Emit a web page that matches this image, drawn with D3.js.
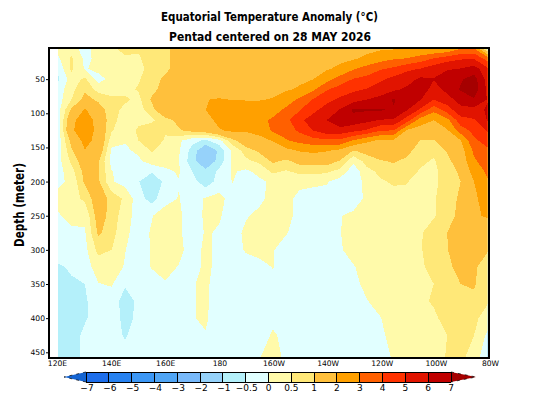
<!DOCTYPE html>
<html><head><meta charset="utf-8">
<style>html,body{margin:0;padding:0;background:#fff}svg{display:block}text{font-family:"DejaVu Sans",sans-serif;fill:#000}</style>
<script src="https://cdn.jsdelivr.net/npm/d3@7"></script></head>
<body><svg id="c" width="540" height="405"></svg>
<script>
const titleText = "Equatorial Temperature Anomaly (°C)";
const subtitleText = "Pentad centered on 28 MAY 2026";
const yTitle = "Depth (meter)";
const lons = d3.range(120, 281, 5);
const depths = [5,20,35,50,65,80,95,110,125,140,155,170,185,200,225,250,275,300,325,350,375,400,425,458];
const depthTicks = [50,100,150,200,250,300,350,400,450];
const lonTicks = [120,140,160,180,200,220,240,260,280];
const lonLabels = ["120E","140E","160E","180","160W","140W","120W","100W","80W"];
const thresholds = [-7,-6,-5,-4,-3,-2,-1,-0.5,0,0.5,1,2,3,4,5,6,7];
const barLabels = ["−7","−6","−5","−4","−3","−2","−1","−0.5","0","0.5","1","2","3","4","5","6","7"];
const bandColors = ["#1464d2","#1e6eeb","#2882f0","#3c97f5","#50a5f5","#78b9fa","#96d2fa","#b4f0fa","#e1ffff","#fffaaa","#ffe878","#ffc03c","#ffa000","#ff6000","#ff3200","#e11400","#c00000","#a50000"];

const t005=[.25,.2,-.2,.25,.4,.7,.55,.8,.9,1.2,1.3,1.3,1.3,1.3,1.3,1.3,1.3,1.35,1.4,1.45,1.5,1.55,1.7,1.75,1.85,1.9,1.95,1.9,1.95,2.05,2.9,3,-.1];
const t020=[-.1,.6,-.1,.1,.3,.4,.45,.7,.9,1.2,1.35,1.4,1.4,1.4,1.4,1.4,1.45,1.5,1.55,1.65,1.7,1.8,1.9,2.2,2.6,2.9,3.05,3.5,4.05,4.6,4.9,4.95,3.6];
const t035=[-.4,.6,-.05,.15,.25,.1,.35,.7,.9,1.2,1.4,1.4,1.5,1.5,1.5,1.5,1.5,1.6,1.7,1.8,1.9,2.2,2.9,3.4,3.9,4.2,4.8,5.05,5.6,5.9,6.05,6.5,5.2];
const t050=[-.6,.25,.6,-.2,.15,.3,.45,.8,1.1,1.25,1.4,1.5,1.5,1.55,1.55,1.55,1.6,1.7,1.85,1.98,2.6,3.4,4.05,4.3,4.8,5.3,5.55,6.2,6.05,6.6,6.9,7.4,5.6];
const t065=[-.3,.35,.9,.3,.3,.35,.55,.8,1.3,1.5,1.6,1.7,1.7,1.7,1.7,1.7,1.8,1.9,2.1,2.8,3.9,4.4,4.8,5.05,5.5,5.8,6.2,6.6,5.6,6.3,7.1,7.6,5.8];
const t080=[-.25,.5,1.2,.9,.6,.6,.35,1.1,1.6,1.8,1.9,1.98,2.05,1.98,1.95,1.95,2.05,2.5,3.2,4.05,4.7,5.2,5.6,6,6.3,7.1,6.5,6.05,5,5.6,6.4,6.9,5.95];
const t095=[-.2,1.1,2.1,1.3,.7,.35,.3,.8,1.7,1.9,1.95,2,2.5,2.5,2.5,2.5,2.6,3.2,3.95,4.75,5.4,6.05,7.15,7.1,7.1,6.9,6.05,4.8,3.3,4.5,5.7,5.7,6.1];
const t110=[-.2,1.6,2.8,1.5,.7,.2,.35,.4,.8,1.15,1.4,1.6,2.3,2.6,2.6,2.75,3.15,3.7,4.8,5.4,5.98,6.9,6.6,6.3,5.95,5.9,4.5,2.5,2,2.7,4.6,4.9,6.05];
const t125=[-.3,1.8,2.8,1.6,.55,.15,.6,.8,.55,.95,1.2,1.4,1.9,2.2,2.1,2.3,3.15,3.5,4.2,5.05,5.6,5.6,5.3,4.9,4.1,4,1.9,1.6,1.5,1.9,3.5,4.3,5.1];
const t140=[-.3,1.2,2.3,1.7,.2,.05,.5,.75,.45,.1,-.35,-.6,-.2,.8,1.5,1.7,2.05,2.9,3.3,3.6,3.8,3.8,2.9,2.2,1.85,1.85,1.55,.98,.95,1.4,1.95,3.8,4.4];
const t155=[-.3,.9,1.95,1.5,-.1,-.1,.1,.55,.25,.05,-.7,-1.6,-.9,.1,.7,1.1,1.4,1.7,2.05,2.2,2.05,1.7,.95,1.2,1.4,1.4,1.15,.75,.6,1.05,1.5,3.2,3.8];
const t170=[-.2,.6,1.4,1.1,-.2,-.3,-.1,.25,.2,.02,-.8,-1.5,-.8,.1,.4,.6,1.1,.9,1.2,1.25,1.3,.95,.1,.7,.95,1.05,.9,.6,.45,.85,1.35,2.85,3.5];
const t185=[-.2,.3,1.2,1.05,.02,-.2,-.3,-.45,-.1,.05,-.5,-.85,-.4,.05,-.1,.15,.6,.45,.65,.65,.6,.35,-.3,.35,.6,.8,.7,.45,.38,.75,1.1,2.4,3.2];
const t200=[-.1,.1,1.1,1.1,.05,-.2,-.48,-.8,-.4,-.02,-.3,-.8,-.3,.02,-.3,-.1,.1,.3,.1,.1,.05,-.2,-.35,.2,.45,.55,.52,.35,.4,.7,1,2,2.9];
const t225=[.15,.3,.6,1.4,.8,.4,-.3,-.7,-.15,.02,-.2,.05,.15,-.2,-.3,-.15,.2,.1,-.1,-.2,-.2,-.3,-.25,.1,.25,.35,.4,.35,.45,.75,1.1,1.8,2.5];
const t250=[-.05,.15,.1,1.3,.8,.2,-.2,-.02,.2,.1,-.3,.1,.05,-.2,-.05,.15,.3,.1,-.1,-.2,-.2,-.02,.1,.2,.25,.3,.35,.4,.45,.8,1.15,1.88,2.1];
const t275=[-.2,-.1,-.05,1.1,.7,.1,-.2,.05,.2,.1,-.3,.05,-.05,-.2,.1,.25,.3,.03,-.2,-.25,-.2,-.01,.1,.2,.3,.3,.35,.45,.75,1,1.2,1.5,1.4];
const t300=[-.3,-.25,-.15,.65,.5,.02,-.3,.05,.2,.12,-.2,.1,-.1,-.2,.05,.2,.03,-.2,-.25,-.3,-.2,-.03,.1,.2,.25,.3,.35,.45,.8,.98,1.3,1.4,1.05];
const t325=[-.55,-.45,-.2,.2,.3,-.05,-.2,.03,.12,-.02,-.15,.08,-.1,-.2,-.2,-.2,.02,-.2,-.3,-.3,-.25,-.2,-.02,.1,.2,.25,.3,.4,.7,.9,1.15,1.1,.7];
const t350=[-.6,-.55,-.5,-.02,.05,-.45,-.3,-.2,-.03,-.15,-.02,.06,-.15,-.2,-.2,-.2,-.1,-.25,-.3,-.3,-.3,-.2,-.05,.05,.15,.25,.3,.35,.5,.8,1,1.05,.65];
const t375=[-.7,-.65,-.55,-.3,-.25,-.7,-.4,-.25,-.25,-.2,-.02,.06,-.2,-.2,-.2,-.2,-.1,-.3,-.3,-.3,-.3,-.3,-.1,-.01,.08,.15,.3,.45,.53,.7,.97,.9,.55];
const t400=[-.8,-.7,-.55,-.3,-.25,-.65,-.4,-.25,-.2,-.2,-.02,.05,-.2,-.2,-.2,-.2,-.1,-.25,-.25,-.25,-.25,-.25,-.2,-.2,-.01,.1,.25,.35,.45,.6,.75,.6,.3];
const t425=[-.75,-.7,-.4,-.3,-.3,-.55,-.25,-.2,-.2,-.2,-.05,-.02,-.2,-.2,-.2,-.2,.05,-.1,-.2,-.2,-.2,-.2,-.2,-.15,-.05,.08,.2,.3,.4,.5,.65,.5,-.1];
const t458=[-.75,-.7,-.4,-.3,-.3,-.3,-.25,-.2,-.2,-.2,-.2,-.2,-.2,-.2,-.2,-.02,.2,-.1,-.2,-.2,-.2,-.2,-.2,-.2,-.2,.05,.15,.3,.4,.52,.65,.2,-.3];
const rows=[t005,t020,t035,t050,t065,t080,t095,t110,t125,t140,t155,t170,t185,t200,t225,t250,t275,t300,t325,t350,t375,t400,t425,t458];

const svg=d3.select("#c");
const x=d3.scaleLinear().domain([120,280]).range([58,487.5]);
const y=d3.scaleLinear().domain([0,450]).range([45,352.3]);
const labelX=d3.scaleLinear().domain([120,280]).range([57,490]);

svg.append("clipPath").attr("id","plot").append("rect").attr("x",x(120)).attr("y",y(5)).attr("width",x(280)-x(120)).attr("height",y(458)-y(5));

const nx=lons.length, ny=depths.length;
const flat=rows.flat();
const lonOfCoord=d3.scaleLinear().domain(lons.map((d,i)=>i+.5)).range(lons);
const depthOfCoord=d3.scaleLinear().domain(depths.map((d,i)=>i+.5)).range(depths);
const path=d3.geoPath(d3.geoTransform({point(a,b){this.stream.point(x(lonOfCoord(a)),y(depthOfCoord(b)));}}));
const gen=d3.contours().size([nx,ny]).thresholds(thresholds);
const field=svg.append("g").attr("clip-path","url(#plot)").attr("shape-rendering","crispEdges");
field.append("rect").attr("x",x(120)).attr("y",y(5)).attr("width",x(280)-x(120)).attr("height",y(458)-y(5)).attr("fill",bandColors[0]);
field.selectAll("path").data(gen(flat)).join("path").attr("d",path).attr("fill",(d,i)=>bandColors[i+1]);

// frame
svg.append("rect").attr("x",49).attr("y",48).attr("width",440).attr("height",310).attr("fill","none").attr("stroke","#000").attr("stroke-width",2.4).attr("shape-rendering","crispEdges");

// axes
const ay=svg.append("g").attr("transform","translate(48,0)").call(d3.axisLeft(y).tickValues(depthTicks).tickSize(2).tickPadding(1));
ay.select(".domain").remove();
ay.selectAll("text").style("font-size","7.6px");
const ax=svg.append("g").attr("transform","translate(0,358)").call(d3.axisBottom(x).tickValues(lonTicks).tickSize(1).tickFormat((d,i)=>lonLabels[i]));
ax.select(".domain").remove();
ax.selectAll("text").attr("x",d=>labelX(d)-x(d)).attr("y",3).style("font-size","7.6px");

// titles
svg.append("text").attr("x",269.5).attr("y",21).attr("text-anchor","middle").attr("textLength",217).attr("lengthAdjust","spacingAndGlyphs").attr("font-weight","bold").style("font-size","13px").text(titleText);
svg.append("text").attr("x",270).attr("y",41).attr("text-anchor","middle").attr("textLength",202).attr("lengthAdjust","spacingAndGlyphs").attr("font-weight","bold").style("font-size","11.5px").text(subtitleText);
svg.append("text").attr("transform","translate(24,205) rotate(-90)").attr("text-anchor","middle").attr("textLength",84).attr("lengthAdjust","spacingAndGlyphs").attr("font-weight","bold").style("font-size","13.5px").text(yTitle);

// colour bar
const barX=d3.scaleLinear().domain([0,thresholds.length-1]).range([86,451]);
const bar=svg.append("g");
const barTop=372, barBot=382, tipL=64, tipR=476;
bar.selectAll("rect").data(d3.range(thresholds.length-1)).join("rect")
  .attr("x",i=>barX(i)).attr("y",barTop).attr("width",i=>barX(i+1)-barX(i)).attr("height",barBot-barTop)
  .attr("fill",i=>bandColors[i+1]).attr("shape-rendering","crispEdges");
const triangle=(tip,base)=>`M${base},${barTop}L${tip},${(barTop+barBot)/2}L${base},${barBot}Z`;
bar.append("path").attr("d",triangle(tipL,barX(0))).attr("fill",bandColors[0]);
bar.append("path").attr("d",triangle(tipR,barX(thresholds.length-1))).attr("fill",bandColors[bandColors.length-1]);
bar.append("path").attr("d",`M${barX(0)},${barTop}L${tipL},${(barTop+barBot)/2}L${barX(0)},${barBot}M${barX(thresholds.length-1)},${barTop}L${tipR},${(barTop+barBot)/2}L${barX(thresholds.length-1)},${barBot}`).attr("fill","none").attr("stroke","#000").attr("stroke-width",.7).attr("stroke-dasharray","3 4");
bar.append("path").attr("d",`M${barX(0)},${barTop}H${barX(thresholds.length-1)}M${barX(0)},${barBot}H${barX(thresholds.length-1)}`).attr("stroke","#000").attr("stroke-width",1).attr("shape-rendering","crispEdges");
bar.selectAll("line").data(thresholds).join("line").attr("x1",(d,i)=>barX(i)).attr("x2",(d,i)=>barX(i)).attr("y1",barTop).attr("y2",barBot).attr("stroke","#000").attr("shape-rendering","crispEdges");
bar.selectAll("text").data(barLabels).join("text").attr("x",(d,i)=>barX(i)+ (i<8?1:0)).attr("y",391).attr("text-anchor","middle").style("font-size","9px").text(d=>d);
</script></body></html>
